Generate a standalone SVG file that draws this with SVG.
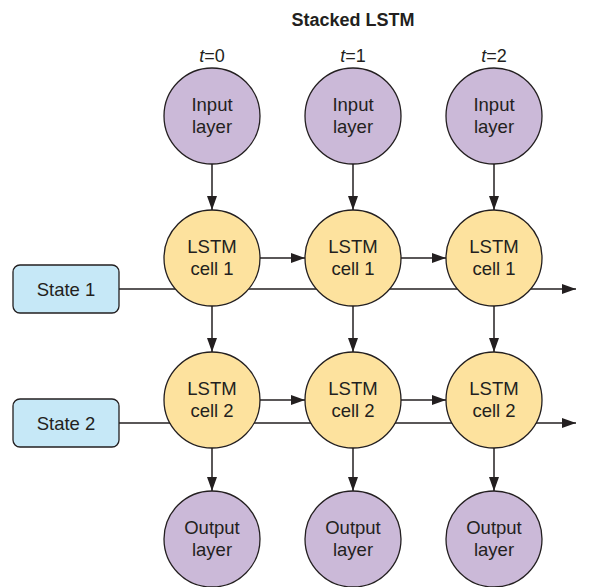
<svg xmlns="http://www.w3.org/2000/svg" width="604" height="587" viewBox="0 0 604 587">
<style>
text{font-family:"Liberation Sans",Arial,sans-serif;fill:#231f20;text-anchor:middle}
.lbl{font-size:18.5px}
.title{font-size:18px;font-weight:bold}
.t{font-size:18px}
.in,.out{fill:#cbb9d8;stroke:#231f20;stroke-width:1.3}
.cell{fill:#fde29e;stroke:#231f20;stroke-width:1.3}
.st{fill:#c6e8f7;stroke:#231f20;stroke-width:1.3}
.ln{stroke:#231f20;stroke-width:1.5;fill:none}
.ar{stroke:#231f20;stroke-width:1.5;fill:none;marker-end:url(#ah)}
</style>
<defs>
<marker id="ah" viewBox="0 0 14 10" refX="14" refY="5" markerWidth="14" markerHeight="10" markerUnits="userSpaceOnUse" orient="auto">
<path d="M0,0L14,5L0,10z" fill="#231f20"/>
</marker>
</defs>
<text class="title" x="353" y="26">Stacked LSTM</text>
<text class="t" x="212" y="62"><tspan font-style="italic">t</tspan>=0</text>
<text class="t" x="353" y="62"><tspan font-style="italic">t</tspan>=1</text>
<text class="t" x="494" y="62"><tspan font-style="italic">t</tspan>=2</text>
<g id="connectors">
<line class="ar" x1="119" y1="289" x2="576" y2="289"/>
<line class="ar" x1="119" y1="423" x2="576" y2="423"/>
<line class="ar" x1="260" y1="258" x2="305" y2="258"/>
<line class="ar" x1="401" y1="258" x2="446" y2="258"/>
<line class="ar" x1="260" y1="400" x2="305" y2="400"/>
<line class="ar" x1="401" y1="400" x2="446" y2="400"/>
<line class="ar" x1="212" y1="164" x2="212" y2="210"/>
<line class="ar" x1="353" y1="164" x2="353" y2="210"/>
<line class="ar" x1="494" y1="164" x2="494" y2="210"/>
<line class="ar" x1="212" y1="306" x2="212" y2="352"/>
<line class="ar" x1="353" y1="306" x2="353" y2="352"/>
<line class="ar" x1="494" y1="306" x2="494" y2="352"/>
<line class="ar" x1="212" y1="448" x2="212" y2="491"/>
<line class="ar" x1="353" y1="448" x2="353" y2="491"/>
<line class="ar" x1="494" y1="448" x2="494" y2="491"/>
</g>
<g id="state1"><rect class="st" x="13" y="265" width="106" height="48" rx="7"/><text class="lbl" x="66" y="296">State 1</text></g>
<g id="state2"><rect class="st" x="13" y="399" width="106" height="48" rx="7"/><text class="lbl" x="66" y="430">State 2</text></g>
<g id="input0"><circle class="in" cx="212" cy="116" r="48"/><text class="lbl" x="212" y="111">Input</text><text class="lbl" x="212" y="133">layer</text></g>
<g id="input1"><circle class="in" cx="353" cy="116" r="48"/><text class="lbl" x="353" y="111">Input</text><text class="lbl" x="353" y="133">layer</text></g>
<g id="input2"><circle class="in" cx="494" cy="116" r="48"/><text class="lbl" x="494" y="111">Input</text><text class="lbl" x="494" y="133">layer</text></g>
<g id="cell1_0"><circle class="cell" cx="212" cy="258" r="48"/><text class="lbl" x="212" y="253">LSTM</text><text class="lbl" x="212" y="275">cell 1</text></g>
<g id="cell1_1"><circle class="cell" cx="353" cy="258" r="48"/><text class="lbl" x="353" y="253">LSTM</text><text class="lbl" x="353" y="275">cell 1</text></g>
<g id="cell1_2"><circle class="cell" cx="494" cy="258" r="48"/><text class="lbl" x="494" y="253">LSTM</text><text class="lbl" x="494" y="275">cell 1</text></g>
<g id="cell2_0"><circle class="cell" cx="212" cy="400" r="48"/><text class="lbl" x="212" y="395">LSTM</text><text class="lbl" x="212" y="417">cell 2</text></g>
<g id="cell2_1"><circle class="cell" cx="353" cy="400" r="48"/><text class="lbl" x="353" y="395">LSTM</text><text class="lbl" x="353" y="417">cell 2</text></g>
<g id="cell2_2"><circle class="cell" cx="494" cy="400" r="48"/><text class="lbl" x="494" y="395">LSTM</text><text class="lbl" x="494" y="417">cell 2</text></g>
<g id="output0"><circle class="out" cx="212" cy="539" r="48"/><text class="lbl" x="212" y="534">Output</text><text class="lbl" x="212" y="556">layer</text></g>
<g id="output1"><circle class="out" cx="353" cy="539" r="48"/><text class="lbl" x="353" y="534">Output</text><text class="lbl" x="353" y="556">layer</text></g>
<g id="output2"><circle class="out" cx="494" cy="539" r="48"/><text class="lbl" x="494" y="534">Output</text><text class="lbl" x="494" y="556">layer</text></g>
</svg>
